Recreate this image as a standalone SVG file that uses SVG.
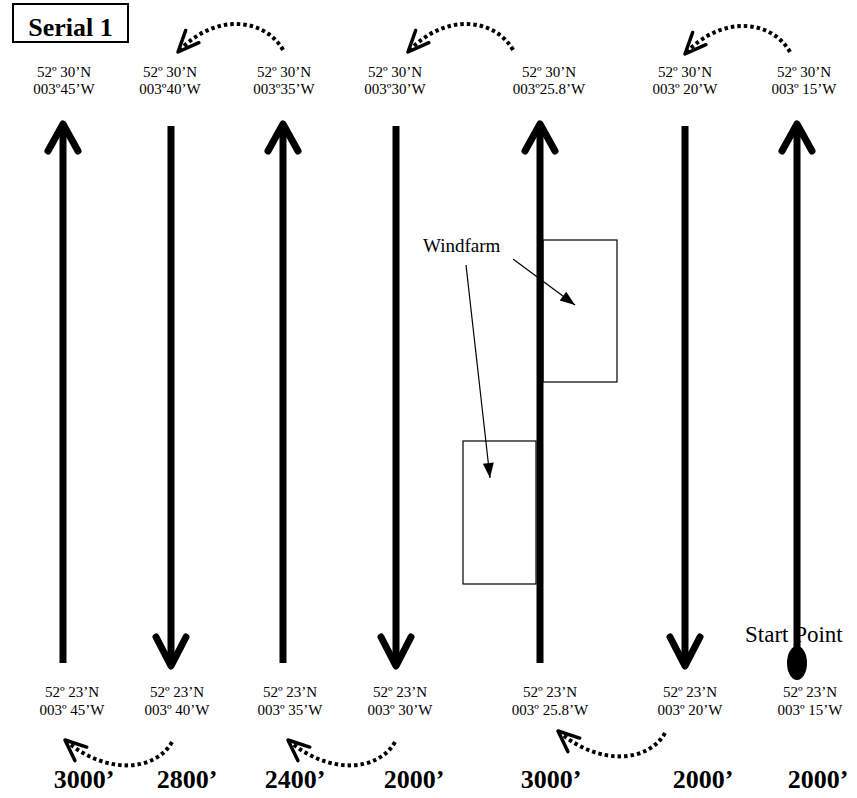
<svg xmlns="http://www.w3.org/2000/svg" width="857" height="798" viewBox="0 0 857 798">
<style>
text{font-family:"Liberation Serif","Times New Roman",serif;fill:#000}
.lbl{font-size:15px;text-anchor:middle}
.alt{font-size:26px;font-weight:bold;text-anchor:middle}
.track{stroke:#000;stroke-width:7;fill:none;stroke-linecap:butt}
.head{stroke:#000;stroke-width:7;fill:none;stroke-linecap:round;stroke-linejoin:round}
.turn{stroke:#000;stroke-width:4;fill:none;stroke-dasharray:3.5 3}
.lead{stroke:#000;stroke-width:1.2;fill:none}
.box{fill:none;stroke:#000;stroke-width:1.2}
</style>
<defs>
<marker id="openV" markerUnits="userSpaceOnUse" markerWidth="30" markerHeight="30" refX="0" refY="0" orient="auto" overflow="visible">
<path d="M -21 -9 L 0 0 L -21 9" fill="none" stroke="#000" stroke-width="3.5" stroke-linecap="round" stroke-linejoin="round" stroke-dasharray="none"/>
</marker>
<marker id="solidTri" markerUnits="userSpaceOnUse" markerWidth="20" markerHeight="20" refX="15" refY="5.5" orient="auto" overflow="visible">
<path d="M 0 0 L 15 5.5 L 0 11 z" fill="#000"/>
</marker>
</defs>
<rect width="857" height="798" fill="#fff"/>

<g id="serial">
<rect x="13" y="4" width="115" height="38" fill="none" stroke="#000" stroke-width="2"/>
<text x="70.5" y="36" font-size="26" font-weight="bold" text-anchor="middle">Serial 1</text>
</g>

<g id="windfarm-north"><rect class="box" x="543" y="240" width="74" height="142"/></g>
<g id="windfarm-south"><rect class="box" x="463" y="441" width="73" height="143"/></g>
<g id="windfarm-label"><text x="423" y="252" font-size="19">Windfarm</text></g>

<g id="start-point">
<text x="745" y="642" font-size="23">Start Point</text>
<ellipse cx="797" cy="663" rx="10" ry="17" fill="#000"/>
</g>

<g id="top-labels">
<g id="t1"><text class="lbl" x="64" y="77">52º 30’N</text><text class="lbl" x="64" y="94">003º45’W</text></g>
<g id="t2"><text class="lbl" x="170" y="77">52º 30’N</text><text class="lbl" x="170" y="94">003º40’W</text></g>
<g id="t3"><text class="lbl" x="284" y="77">52º 30’N</text><text class="lbl" x="284" y="94">003º35’W</text></g>
<g id="t4"><text class="lbl" x="395" y="77">52º 30’N</text><text class="lbl" x="395" y="94">003º30’W</text></g>
<g id="t5"><text class="lbl" x="549" y="77">52º 30’N</text><text class="lbl" x="549" y="94">003º25.8’W</text></g>
<g id="t6"><text class="lbl" x="685" y="77">52º 30’N</text><text class="lbl" x="685" y="94">003º 20’W</text></g>
<g id="t7"><text class="lbl" x="804" y="77">52º 30’N</text><text class="lbl" x="804" y="94">003º 15’W</text></g>
</g>

<g id="bottom-labels">
<g id="b1"><text class="lbl" x="72" y="697">52º 23’N</text><text class="lbl" x="72" y="715">003º 45’W</text></g>
<g id="b2"><text class="lbl" x="177" y="697">52º 23’N</text><text class="lbl" x="177" y="715">003º 40’W</text></g>
<g id="b3"><text class="lbl" x="290" y="697">52º 23’N</text><text class="lbl" x="290" y="715">003º 35’W</text></g>
<g id="b4"><text class="lbl" x="400" y="697">52º 23’N</text><text class="lbl" x="400" y="715">003º 30’W</text></g>
<g id="b5"><text class="lbl" x="550" y="697">52º 23’N</text><text class="lbl" x="550" y="715">003º 25.8’W</text></g>
<g id="b6"><text class="lbl" x="690" y="697">52º 23’N</text><text class="lbl" x="690" y="715">003º 20’W</text></g>
<g id="b7"><text class="lbl" x="810" y="697">52º 23’N</text><text class="lbl" x="810" y="715">003º 15’W</text></g>
</g>

<g id="altitudes">
<text class="alt" x="84" y="788">3000’</text>
<text class="alt" x="187" y="788">2800’</text>
<text class="alt" x="295" y="788">2400’</text>
<text class="alt" x="414" y="788">2000’</text>
<text class="alt" x="551" y="788">3000’</text>
<text class="alt" x="703" y="788">2000’</text>
<text class="alt" x="818" y="788">2000’</text>
</g>

<g id="connectors">
<!-- run lines -->
<line class="track" x1="63" y1="124" x2="63" y2="663"/>
<polyline class="head" points="48,151 63,124 78,151"/>
<line class="track" x1="171" y1="126" x2="171" y2="665"/>
<polyline class="head" points="156,637 171,666 186,637"/>
<line class="track" x1="283" y1="124" x2="283" y2="663"/>
<polyline class="head" points="268,151 283,124 298,151"/>
<line class="track" x1="396" y1="126" x2="396" y2="665"/>
<polyline class="head" points="381,637 396,666 411,637"/>
<line class="track" x1="540" y1="124" x2="540" y2="663"/>
<polyline class="head" points="525,151 540,124 555,151"/>
<line class="track" x1="685" y1="126" x2="685" y2="665"/>
<polyline class="head" points="670,637 685,666 700,637"/>
<line class="track" x1="797" y1="124" x2="797" y2="655"/>
<polyline class="head" points="782,151 797,124 812,151"/>

<!-- turn arrows top -->
<path class="turn" d="M 283 50 C 265 18, 215 12, 178 52" marker-end="url(#openV)"/>
<path class="turn" d="M 513 50 C 495 18, 445 12, 408 52" marker-end="url(#openV)"/>
<path class="turn" d="M 790 52 C 772 20, 722 14, 685 54" marker-end="url(#openV)"/>
<!-- turn arrows bottom -->
<path class="turn" d="M 172 742 C 155 772, 105 775, 65 740" marker-end="url(#openV)"/>
<path class="turn" d="M 395 742 C 378 772, 328 775, 288 740" marker-end="url(#openV)"/>
<path class="turn" d="M 665 733 C 648 763, 598 766, 558 731" marker-end="url(#openV)"/>

<!-- windfarm leaders -->
<line class="lead" x1="513" y1="259" x2="575" y2="305" marker-end="url(#solidTri)"/>
<line class="lead" x1="466" y1="265" x2="490" y2="478" marker-end="url(#solidTri)"/>
</g>
</svg>
